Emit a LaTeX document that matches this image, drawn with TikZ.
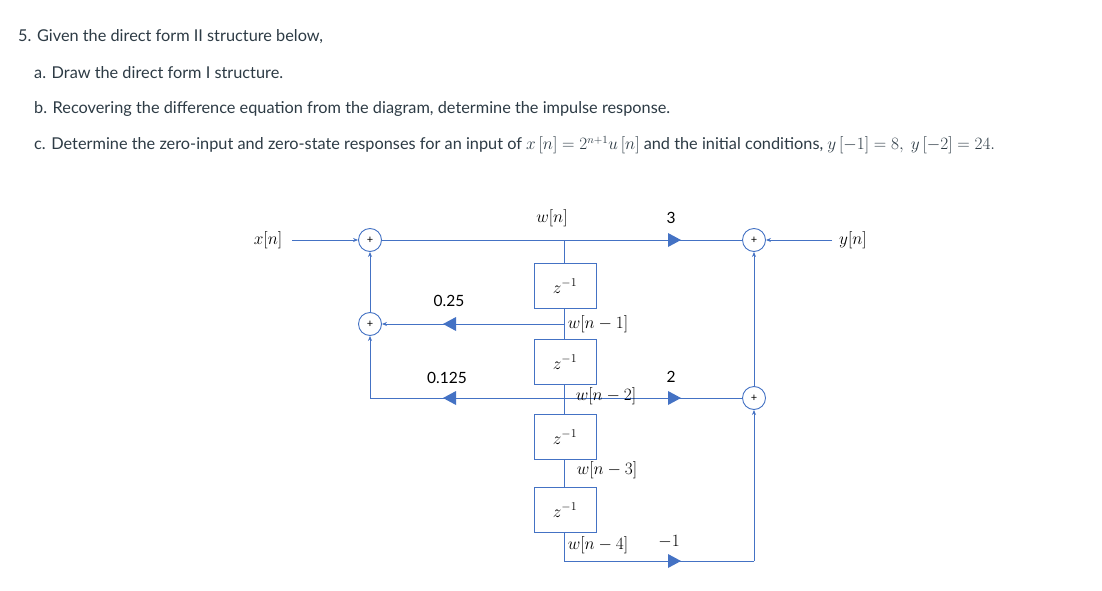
\documentclass[tikz,border=0pt]{standalone}
\usepackage{fontspec}
\setmainfont{Lato}
\usetikzlibrary{arrows.meta}
\definecolor{bl}{HTML}{4472C4}
\definecolor{tx}{HTML}{2D3B45}
\begin{document}
\begin{tikzpicture}[x=1pt,y=-1pt,
  sum/.style={circle,draw=bl,line width=0.9pt,inner sep=0pt,minimum size=23pt,font=\fontsize{11}{11}\selectfont,text=black},
  dbox/.style={draw=bl,line width=0.9pt,fill=white,minimum width=62pt,minimum height=45pt,inner sep=0pt,font=\fontsize{17}{17}\selectfont},
  ln/.style={draw=bl,line width=0.9pt},
  arr/.style={ln,-{Stealth[length=5pt,width=4pt]}},
  tri/.style={fill=bl,draw=none},
  lab/.style={font=\fontsize{18}{18}\selectfont,inner sep=1pt},
  num/.style={font=\fontsize{15.5}{15.5}\selectfont,inner sep=1pt},
  txt/.style={anchor=west,inner sep=0pt,text=tx,font=\fontsize{16.3}{17}\selectfont}]
\useasboundingbox (0,0) rectangle (1102,591);
\fill[white] (0,0) rectangle (1102,591);
\node[txt] (t1) at (18,37) {5. Given the direct form II structure below,};
\node[txt] (t2) at (34,73) {a. Draw the direct form I structure.};
\node[txt] (t3) at (34,109) {b. Recovering the difference equation from the diagram, determine the impulse response.};
\node[txt] (t4) at (34,145) {c. Determine the zero-input and zero-state responses for an input of $x\,[n]=2^{n+1}u\,[n]$ and the initial conditions, $y\,[-1]=8,\ y\,[-2]=24.$};
% summers
\node[sum] (s1) at (370,240) {+};
\node[sum] (s2) at (370,324) {+};
\node[sum] (s3) at (754,240) {+};
\node[sum] (s4) at (754,398) {+};
\node[lab] (x) at (268,240) {$x[n]$};
\node[lab] (y) at (853,240) {$y[n]$};
\coordinate (c0) at (564,240);
\coordinate (c1) at (564,324);
\coordinate (c2) at (564,398);
\coordinate (c4) at (564,561);
\coordinate (l2) at (370,398);
\coordinate (r4) at (754,561);
\coordinate (xs) at (292,240);
\coordinate (ys) at (832,240);
% lines
\draw[arr] (xs) -- (s1.west);
\draw[arr] (ys) -- (s3.east);
\draw[ln] (s1.east) -- (s3.west);
\draw[ln] (c0) -- (c4) -- (r4);
\draw[arr] (c1) -- (s2.east);
\draw[ln] (c2) -- (l2);
\draw[arr] (l2) -- (s2.south);
\draw[arr] (s2.north) -- (s1.south);
\draw[ln] (c2) -- (s4.west);
\draw[arr] (r4) -- (s4.south);
\draw[arr] (s4.north) -- (s3.south);
% boxes
\node[dbox] (d1) at (565,286) {$z^{-1}$};
\node[dbox] (d2) at (565,362) {$z^{-1}$};
\node[dbox] (d3) at (565,437) {$z^{-1}$};
\node[dbox] (d4) at (565,510) {$z^{-1}$};
% triangles
\fill[tri] (668,233) -- (681,240) -- (668,247) -- cycle;
\fill[tri] (668,391) -- (681,398) -- (668,405) -- cycle;
\fill[tri] (668,554) -- (681,561) -- (668,568) -- cycle;
\fill[tri] (456,317) -- (443,324) -- (456,331) -- cycle;
\fill[tri] (456,391) -- (443,398) -- (456,405) -- cycle;
% labels
\node[lab] (wn) at (552,218) {$w[n]$};
\node[num] (g3) at (671,218) {3};
\node[num] (g25) at (449,301) {0.25};
\node[num] (g125) at (447,378) {0.125};
\node[num] (g2) at (671,377) {2};
\node[lab,font=\fontsize{16}{16}\selectfont] (gm1) at (669,542) {$-1$};
\node[lab] (w1) at (598,324) {$w[n-1]$};
\node[lab] (w2) at (606,396) {$w[n-2]$};
\node[lab] (w3) at (607,470) {$w[n-3]$};
\node[lab] (w4) at (598,545) {$w[n-4]$};
\end{tikzpicture}
\end{document}
